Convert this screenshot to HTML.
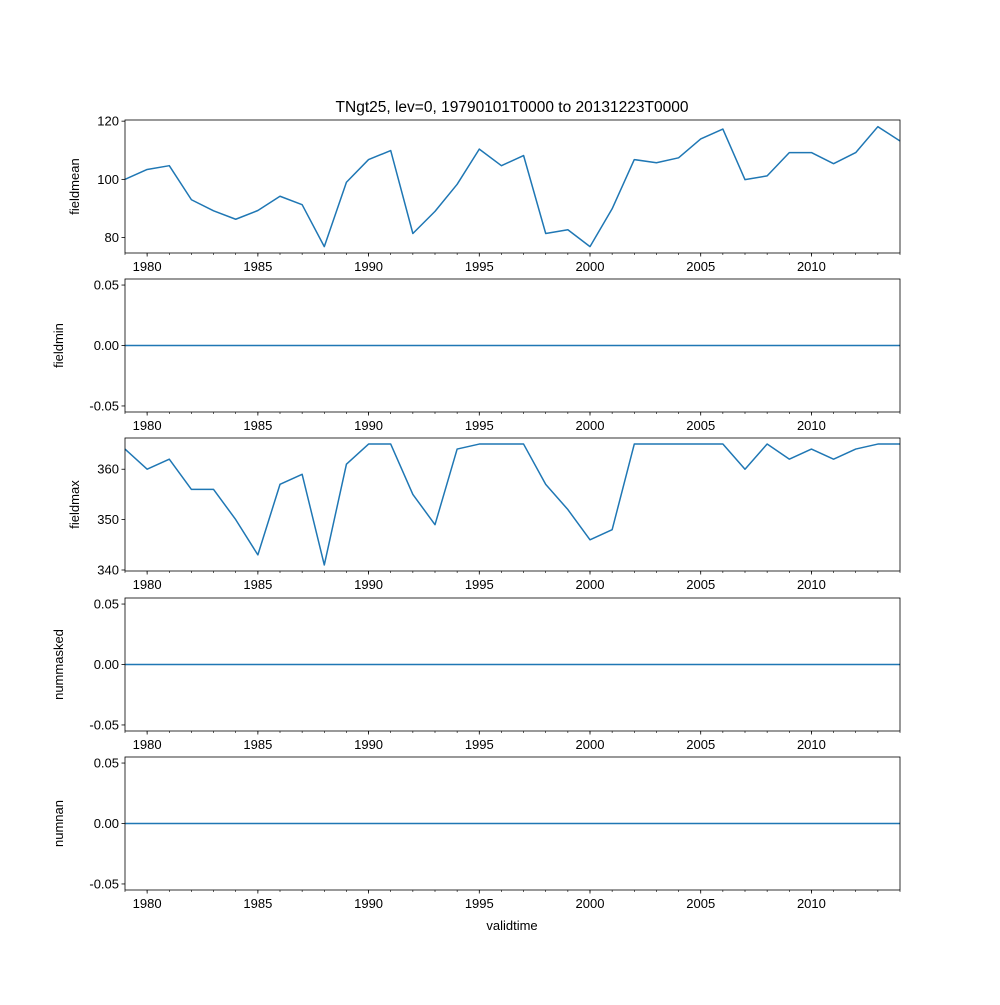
<!DOCTYPE html>
<html><head><meta charset="utf-8"><style>
body{margin:0;background:#fff;}
svg text{font-family:"Liberation Sans","DejaVu Sans",sans-serif;font-size:13px;fill:#000;}
</style></head><body>
<svg id="chart" width="1000" height="1000" xmlns="http://www.w3.org/2000/svg">
<text x="512" y="112" text-anchor="middle" style="font-size:15.5px">TNgt25, lev=0, 19790101T0000 to 20131223T0000</text>
<text x="512" y="930" text-anchor="middle">validtime</text>
</svg>
<script>
const years = [1979,1980,1981,1982,1983,1984,1985,1986,1987,1988,1989,1990,1991,1992,1993,1994,1995,1996,1997,1998,1999,2000,2001,2002,2003,2004,2005,2006,2007,2008,2009,2010,2011,2012,2013,2014];
const fieldmean = [100,103.4,104.7,93,89.2,86.3,89.3,94.2,91.3,76.9,99,106.8,109.9,81.4,89,98.3,110.4,104.7,108.2,81.4,82.7,76.9,89.9,106.8,105.7,107.4,113.9,117.3,99.9,101.2,109.2,109.2,105.4,109.2,118.1,113.2];
const fieldmin = years.map(()=>0);
const fieldmax = [364,360,362,356,356,350,343,357,359,341,361,365,365,355,349,364,365,365,365,357,352,346,348,365,365,365,365,365,360,365,362,364,362,364,365,365];
const nummasked = years.map(()=>0);
const numnan = years.map(()=>0);
const xTicks = [1980,1985,1990,1995,2000,2005,2010];
const zeroTicks = [-0.05,0,0.05];

const NS="http://www.w3.org/2000/svg";
const svg=document.getElementById('chart');
const L=125,R=900;
const X=v=>L+(v-1979)/(2014-1979)*(R-L);
function mk(t,a,p){const e=document.createElementNS(NS,t);for(const k in a)e.setAttribute(k,a[k]);(p||svg).appendChild(e);return e;}
const panels=[
 {name:'fieldmean',data:fieldmean,top:120,ymin:74.7,ymax:120.4,ticks:[80,100,120],fmt:v=>String(v),lx:79},
 {name:'fieldmin',data:fieldmin,top:279,ymin:-0.055,ymax:0.055,ticks:zeroTicks,fmt:v=>v.toFixed(2),lx:63},
 {name:'fieldmax',data:fieldmax,top:438,ymin:339.8,ymax:366.2,ticks:[340,350,360],fmt:v=>String(v),lx:79},
 {name:'nummasked',data:nummasked,top:598,ymin:-0.055,ymax:0.055,ticks:zeroTicks,fmt:v=>v.toFixed(2),lx:63},
 {name:'numnan',data:numnan,top:757,ymin:-0.055,ymax:0.055,ticks:zeroTicks,fmt:v=>v.toFixed(2),lx:63}
];
const H=133;
panels.forEach(p=>{
 const g=mk('g',{});
 
 
 const Y=v=>p.top+H-(v-p.ymin)/(p.ymax-p.ymin)*H;
 let pts=p.data.map((v,i)=>X(years[i]).toFixed(2)+','+Y(v).toFixed(2)).join(' ');
 const line=mk('polyline',{points:pts,fill:'none',stroke:'#1f77b4','stroke-width':1.5,'stroke-linejoin':'round'},g);
 
 
 const frame=mk('rect',{x:L,y:p.top,width:R-L,height:H,fill:'none',stroke:'#000','stroke-width':0.8},g);
 
 
 p.ticks.forEach(t=>{
  const y=Y(t);
  mk('line',{x1:L-3.5,x2:L,y1:y,y2:y,stroke:'#000','stroke-width':0.8},g);
  const tx=mk('text',{x:L-6,y:y+4.5,'text-anchor':'end'},g);
  tx.textContent=p.fmt(t);
  
  
 });
 years.forEach(yr=>{
  const x=X(yr);
  mk('line',{x1:x,x2:x,y1:p.top+H,y2:p.top+H+2,stroke:'#000','stroke-width':0.6},g);
 });
 xTicks.forEach(t=>{
  const x=X(t);
  mk('line',{x1:x,x2:x,y1:p.top+H,y2:p.top+H+3.5,stroke:'#000','stroke-width':0.8},g);
  const tx=mk('text',{x:x,y:p.top+H+18,'text-anchor':'middle'},g);
  tx.textContent=t;
  
  
 });
 const yl=mk('text',{x:0,y:0,'text-anchor':'middle',transform:`translate(${p.lx},${p.top+H/2}) rotate(-90)`},g);
 yl.textContent=p.name;
 
 
});
</script>
</body></html>
